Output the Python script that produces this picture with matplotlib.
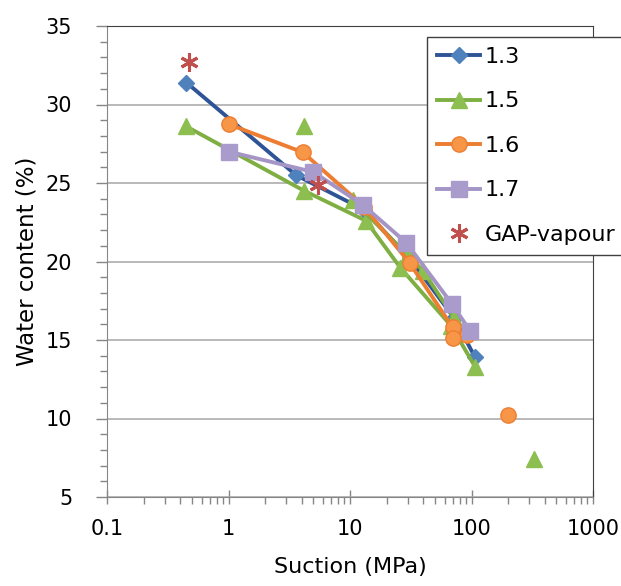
import numpy as np
import matplotlib
matplotlib.use('Agg')
import matplotlib.pyplot as plt
from matplotlib.ticker import LogLocator, MultipleLocator, FixedLocator, FixedFormatter

plt.rcParams['font.family'] = 'DejaVu Sans'

# series: suction (MPa) vs water content (%)
s13 = [0.45, 3.6, 13, 31, 72, 107]
w13 = [31.4, 25.5, 23.3, 20.2, 16.4, 13.9]

s15 = [0.45, 4.2, 13.5, 26, 68, 107]
w15 = [28.6, 24.5, 22.6, 19.6, 15.9, 13.3]
s15b = [10.5, 30, 40, 72]
w15b = [23.9, 20.4, 19.4, 16.4]
s15_pts = [4.2, 330]
w15_pts = [28.6, 7.4]

s16 = [1.0, 4.1, 13, 31, 70, 92]
w16 = [28.75, 26.95, 23.5, 19.9, 15.8, 15.3]
s16_pts = [70, 200]
w16_pts = [15.1, 10.2]

s17 = [1.0, 5.0, 12.8, 29, 69, 97]
w17 = [27.0, 25.7, 23.6, 21.2, 17.3, 15.6]

s_gap = [0.47, 5.5]
w_gap = [32.7, 24.9]

x_ticks = [0.1, 1, 10, 100, 1000]
x_labels = ['0.1', '1', '10', '100', '1000']
y_ticks = [5, 10, 15, 20, 25, 30, 35]

blue_l, blue_m = '#2F5496', '#4F81BD'
green_l, green_m = '#7FAF42', '#8CBF4F'
orange_l, orange_m = '#ED7D31', '#F79646'
purple_l, purple_m = '#A495C6', '#A99BCB'
red = '#C0504D'

fig = plt.figure(figsize=(6.21, 5.86), dpi=100)
ax = fig.add_axes([107 / 621, 1 - 497 / 586, (593 - 107) / 621, (497 - 26) / 586])

lw = 2.8
ax.plot(s13, w13, color=blue_l, lw=lw, marker='D', ms=8.5, mfc=blue_m, mec=blue_m, label='1.3', zorder=3)
ax.plot(s15, w15, color=green_l, lw=lw, marker='^', ms=11, mfc=green_m, mec=green_m, label='1.5', zorder=3)
ax.plot(s15b, w15b, color=green_l, lw=lw, marker='^', ms=11, mfc=green_m, mec=green_m, zorder=3)
ax.plot(s15_pts, w15_pts, ls='none', marker='^', ms=11, mfc=green_m, mec=green_m, zorder=3)
ax.plot(s16, w16, color=orange_l, lw=lw, marker='o', ms=11, mfc=orange_m, mec=orange_l, label='1.6', zorder=3)
ax.plot(s16_pts, w16_pts, ls='none', marker='o', ms=11, mfc=orange_m, mec=orange_l, zorder=3)
ax.plot(s17, w17, color=purple_l, lw=lw, marker='s', ms=11, mfc=purple_m, mec=purple_m, label='1.7', zorder=3)
ax.plot(s_gap, w_gap, ls='none', marker=(6, 2, 0), ms=13, mew=2.2, mec=red, label='GAP-vapour', zorder=4)

ax.set_xscale('log')
ax.set_xlim(0.1, 1000)
ax.set_ylim(5, 35)
ax.xaxis.set_major_locator(FixedLocator(x_ticks))
ax.xaxis.set_major_formatter(FixedFormatter(x_labels))
ax.xaxis.set_minor_locator(LogLocator(base=10, subs=np.arange(2, 10)))
ax.xaxis.set_minor_formatter(plt.NullFormatter())
ax.yaxis.set_major_locator(FixedLocator(y_ticks))
ax.yaxis.set_minor_locator(MultipleLocator(1))

ax.grid(axis='y', which='major', color='#A6A6A6', lw=1.1)
ax.set_axisbelow(True)
for side in ['left', 'bottom']:
    ax.spines[side].set_color('#868686')
for side in ['top', 'right']:
    ax.spines[side].set_color('#404040')
ax.tick_params(which='both', colors='#868686', labelcolor='black', labelsize=15)
ax.tick_params(axis='y', which='major', direction='out', length=8, width=1, pad=17)
ax.tick_params(axis='y', which='minor', direction='out', length=5, width=1)
ax.tick_params(axis='x', which='major', direction='inout', length=10, width=1, pad=11)
ax.tick_params(axis='x', which='minor', direction='out', length=5, width=1)

ax.set_xlabel('Suction (MPa)', fontsize=16, labelpad=13)
ax.set_ylabel('Water content (%)', fontsize=16.5, labelpad=5)

leg = fig.legend(loc='upper left', bbox_to_anchor=(427 / 621, 1 - 37 / 586), fontsize=16,
                 frameon=True, fancybox=False, edgecolor='#404040', framealpha=1,
                 borderaxespad=0, handlelength=1.95, handletextpad=0.2,
                 labelspacing=1.1, borderpad=0.45)
leg.get_frame().set_linewidth(1.0)

fig.savefig('out.png', dpi=100)
